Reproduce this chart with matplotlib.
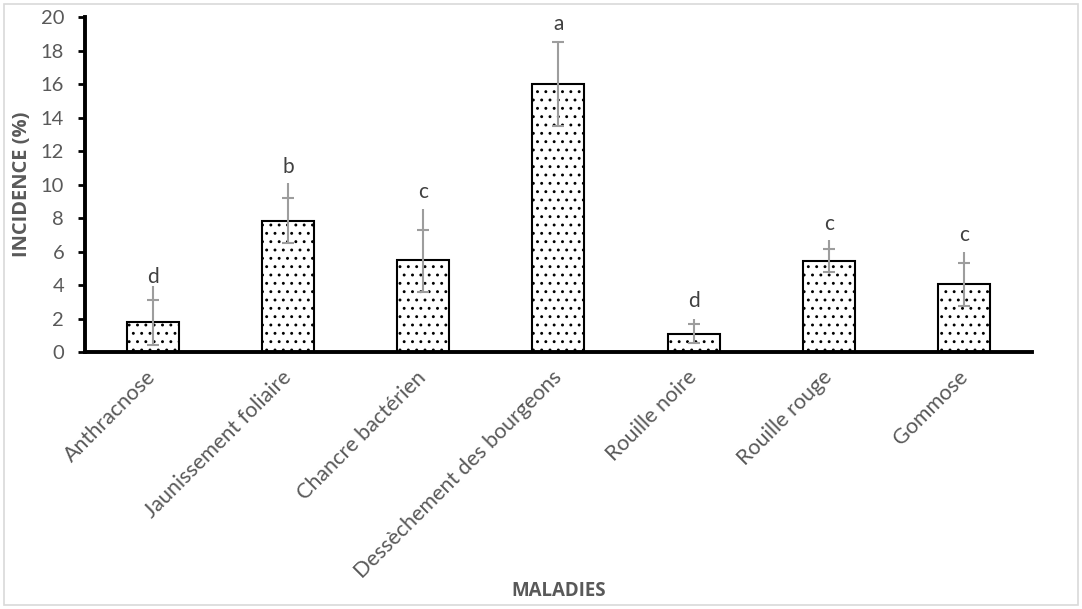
import numpy as np
import matplotlib
matplotlib.use('Agg')
import matplotlib.pyplot as plt
from matplotlib.patches import Rectangle

maladies = ['Anthracnose', 'Jaunissement foliaire', 'Chancre bactérien',
            'Dessèchement des bourgeons', 'Rouille noire', 'Rouille rouge', 'Gommose']
incidence = [1.8, 7.8, 5.5, 16.0, 1.1, 5.45, 4.05]
cap_low = [0.4, 6.5, 3.6, 13.5, 0.55, 4.75, 2.75]
cap_high = [3.1, 9.2, 7.3, 18.5, 1.7, 6.15, 5.3]
line_top = [3.95, 10.1, 8.55, 18.5, 2.0, 6.7, 6.0]
groupes = ['d', 'b', 'c', 'a', 'd', 'c', 'c']
groupes_y = [4.1, 10.7, 9.2, 19.2, 2.7, 7.3, 6.6]

plt.rcParams['font.family'] = ['Lato', 'DejaVu Sans']
plt.rcParams['hatch.linewidth'] = 0.9
plt.rcParams['hatch.color'] = 'black'

fig = plt.figure(figsize=(10.82, 6.09), dpi=100)
ax = fig.add_axes([0.0786, 0.422, 0.875, 0.550])

x = np.arange(len(maladies))
ax.bar(x, incidence, width=0.385, color='white', edgecolor='black',
       linewidth=1.5, hatch='..', zorder=2)

err_col = '#9d9d9d'
lo = np.array(incidence) - np.array(cap_low)
hi = np.array(cap_high) - np.array(incidence)
ax.errorbar(x, incidence, yerr=[lo, hi], fmt='none', ecolor=err_col,
            elinewidth=1.5, capsize=4.5, capthick=1.5, zorder=3)
ax.vlines(x, cap_high, line_top, color=err_col, linewidth=1.5, zorder=3)

for xi, yt, g in zip(x, groupes_y, groupes):
    ax.text(xi, yt, g, ha='center', va='baseline', fontsize=15, color='#404040')

ax.set_xlim(-0.5, 6.5)
ax.set_ylim(0, 20)
ax.set_yticks(np.arange(0, 21, 2))
ax.set_xticks(x)
ax.set_xticklabels(maladies, rotation=45, ha='right', va='center',
                   rotation_mode='anchor', fontsize=15.5, color='#595959')
ax.tick_params(axis='x', length=0, pad=16)
ax.tick_params(axis='y', length=5, width=2, colors='black', labelsize=14.5,
               labelcolor='#595959', pad=10)

for s in ['top', 'right']:
    ax.spines[s].set_visible(False)
ax.spines['left'].set_linewidth(2.8)
ax.spines['bottom'].set_linewidth(2.8)

ax.set_ylabel('INCIDENCE (%)', fontsize=14.5, fontweight='bold', color='#595959',
              family=['Open Sans', 'DejaVu Sans'])
ax.yaxis.set_label_coords(-0.056, 0.5)
fig.text(0.516, 0.03, 'MALADIES', ha='center', va='center', fontsize=13.5,
         fontweight='bold', color='#595959', family=['Open Sans', 'DejaVu Sans'])

fig.patches.append(Rectangle((0.004, 0.006), 0.992, 0.988, transform=fig.transFigure,
                             fill=False, edgecolor='#d9d9d9', linewidth=1.2))

fig.savefig('out.png', dpi=100)
